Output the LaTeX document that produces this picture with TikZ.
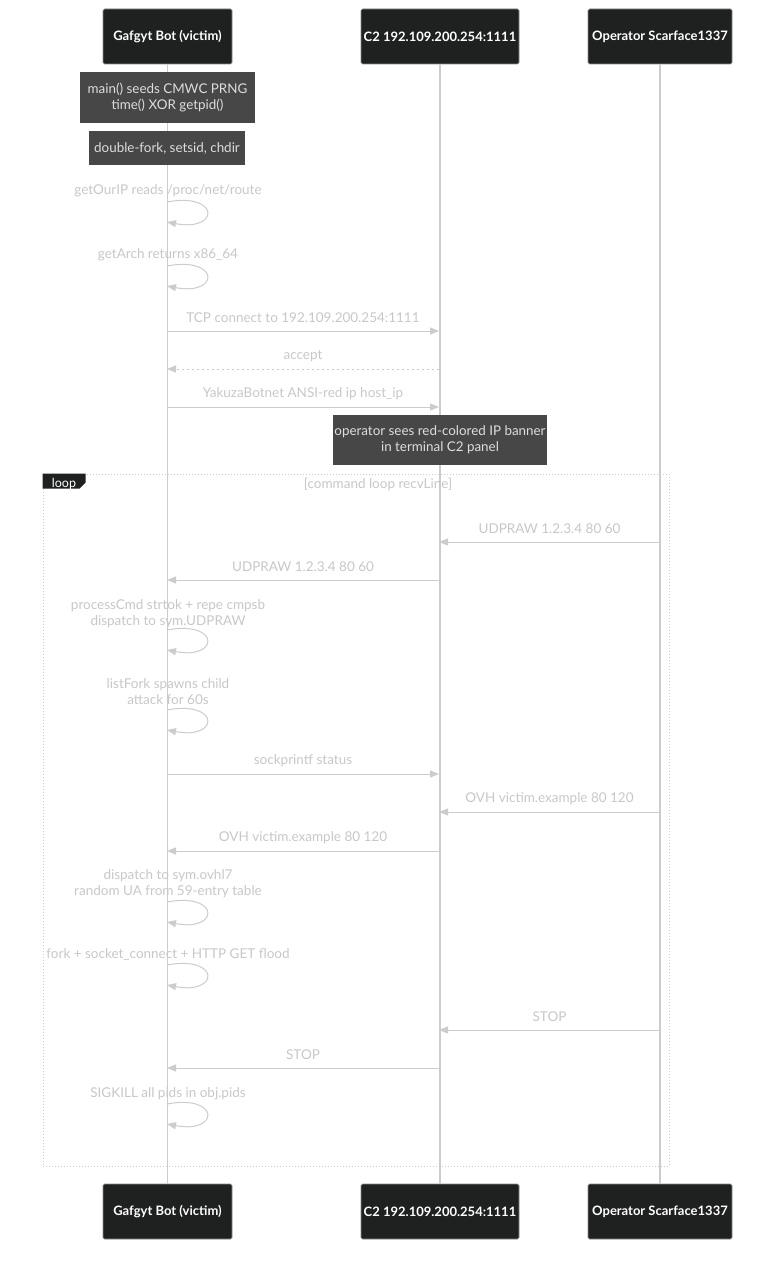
\documentclass[tikz,border=0pt]{standalone}
\usepackage{fontspec}
\setmainfont{Lato}
\usetikzlibrary{arrows.meta,shapes.geometric}
\definecolor{lifeln}{HTML}{CCCCCC}
\definecolor{msgtxt}{HTML}{C8C8C8}
\definecolor{actfill}{HTML}{1F2020}
\definecolor{actline}{HTML}{8A8A8A}
\definecolor{notefill}{HTML}{474747}
\definecolor{notetxt}{HTML}{DDDDDD}
\tikzset{
  actor/.style={draw=actline, line width=0.6pt, fill=actfill, text=white, rounded corners=1.5pt,
    minimum height=55pt, inner sep=0pt, font=\fontsize{13}{15}\selectfont\bfseries},
  notebox/.style={fill=notefill, text=notetxt, inner sep=0pt, align=center,
    font=\fontsize{13.4}{16}\selectfont},
  life/.style={draw=lifeln, line width=1.2pt},
  msg/.style={draw=lifeln, line width=1pt, -{Triangle[length=9pt,width=7pt]}},
  msgd/.style={msg, dash pattern=on 2.5pt off 2.5pt},
  mlabel/.style={text=msgtxt, font=\fontsize{13.5}{16}\selectfont, align=center, inner sep=0pt},
  loopbox/.style={draw=lifeln, line width=1pt, dotted},
}
\begin{document}
\begin{tikzpicture}[x=1pt,y=-1pt]
\useasboundingbox (0,0) rectangle (784,1263);
\fill[white] (0,0) rectangle (784,1263);
% participants
\node[actor, minimum width=129pt] (bt) at (167.5,36.5) {Gafgyt Bot (victim)};
\node[actor, minimum width=158pt] (ct) at (440,36.5) {C2 192.109.200.254:1111};
\node[actor, minimum width=144pt] (ot) at (660,36.5) {Operator Scarface1337};
\node[actor, minimum width=129pt] (bb) at (167.5,1211.5) {Gafgyt Bot (victim)};
\node[actor, minimum width=158pt] (cb) at (440,1211.5) {C2 192.109.200.254:1111};
\node[actor, minimum width=144pt] (ob) at (660,1211.5) {Operator Scarface1337};
% lifelines
\draw[life] (bt.south) -- (bb.north);
\draw[life] (ct.south) -- (cb.north);
\draw[life] (ot.south) -- (ob.north);
% notes
\node[notebox, minimum width=175pt, minimum height=51pt] (n1) at (167.5,97.5) {main() seeds CMWC PRNG\\time() XOR getpid()};
\node[notebox, minimum width=156pt, minimum height=34pt] (n2) at (167,148) {double-fork, setsid, chdir};
\node[notebox, minimum width=214pt, minimum height=50pt] (n3) at (440,440) {operator sees red-colored IP banner\\in terminal C2 panel};
% self loop macro
\newcommand{\selfmsg}[2]{% name, y
  \coordinate (#1a) at (167,#2);
  \coordinate (#1b) at (167,#2+20);
  \draw[msg] (#1a) .. controls +(53,-10) and +(53,10) .. (#1b);
}
\selfmsg{s1}{202}
\node[mlabel] (t1) at (168,191) {getOurIP reads /proc/net/route};
\selfmsg{s2}{266}
\node[mlabel] (t2) at (168,255) {getArch returns x86\_64};
% messages
\coordinate (b1) at (167,331); \coordinate (c1) at (439,331);
\draw[msg] (b1) -- (c1) node[mlabel, midway, yshift=13pt] {TCP connect to 192.109.200.254:1111};
\coordinate (b2) at (167,369); \coordinate (c2) at (439,369);
\draw[msgd] (c2) -- (b2) node[mlabel, midway, yshift=13pt] {accept};
\coordinate (b3) at (167,407); \coordinate (c3) at (439,407);
\draw[msg] (b3) -- (c3) node[mlabel, midway, yshift=13pt] {YakuzaBotnet ANSI-red ip host\_ip};
% loop frame
\node[loopbox, minimum width=626pt, minimum height=692pt, inner sep=0pt] (frame) at (356,820) {};
\fill[actfill] (frame.north west) -- ++(43,0) -- ++(0,9) -- ++(-6,6) -- ++(-37,0) -- cycle;
\node[text=white, font=\fontsize{12.5}{14}\selectfont, inner sep=0pt] (lp) at (64,483.5) {loop};
\node[mlabel] (lt) at (378,484) {[command loop recvLine]};
% loop content
\coordinate (c4) at (439,542); \coordinate (o4) at (660,542);
\draw[msg] (o4) -- (c4) node[mlabel, midway, yshift=13pt] {UDPRAW 1.2.3.4 80 60};
\coordinate (b5) at (167,580); \coordinate (c5) at (439,580);
\draw[msg] (c5) -- (b5) node[mlabel, midway, yshift=13pt] {UDPRAW 1.2.3.4 80 60};
\selfmsg{s3}{630}
\node[mlabel] (t3) at (168,614) {processCmd strtok + repe cmpsb\\dispatch to sym.UDPRAW};
\selfmsg{s4}{710}
\node[mlabel] (t4) at (168,692) {listFork spawns child\\attack for 60s};
\coordinate (b6) at (167,774); \coordinate (c6) at (439,774);
\draw[msg] (b6) -- (c6) node[mlabel, midway, yshift=13pt] {sockprintf status};
\coordinate (c7) at (439,812); \coordinate (o7) at (660,812);
\draw[msg] (o7) -- (c7) node[mlabel, midway, yshift=13pt] {OVH victim.example 80 120};
\coordinate (b8) at (167,851); \coordinate (c8) at (439,851);
\draw[msg] (c8) -- (b8) node[mlabel, midway, yshift=13pt] {OVH victim.example 80 120};
\selfmsg{s5}{902}
\node[mlabel] (t5) at (168,884) {dispatch to sym.ovhl7\\random UA from 59-entry table};
\selfmsg{s6}{965}
\node[mlabel] (t6) at (168,954) {fork + socket\_connect + HTTP GET flood};
\coordinate (c9) at (439,1030); \coordinate (o9) at (660,1030);
\draw[msg] (o9) -- (c9) node[mlabel, midway, yshift=13pt] {STOP};
\coordinate (b10) at (167,1068); \coordinate (c10) at (439,1068);
\draw[msg] (c10) -- (b10) node[mlabel, midway, yshift=13pt] {STOP};
\selfmsg{s7}{1104}
\node[mlabel] (t7) at (168,1094) {SIGKILL all pids in obj.pids};
\end{tikzpicture}
\end{document}
